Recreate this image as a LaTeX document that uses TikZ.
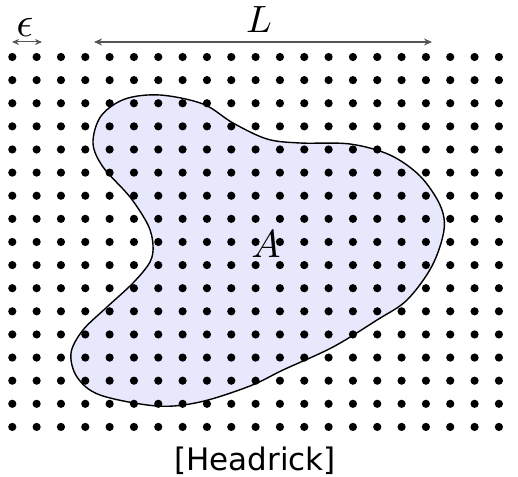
\documentclass[tikz,border=0pt]{standalone}
\usepackage{fontspec}
\usetikzlibrary{arrows.meta}
\newfontfamily\capfont{DejaVu Sans}
\definecolor{blobfill}{RGB}{232,232,252}
\definecolor{arrowgray}{RGB}{85,85,85}
\begin{document}
\begin{tikzpicture}[x=1pt,y=-1pt,
  dimarrow/.style={draw=arrowgray, line width=1pt, {Stealth[length=7pt,width=6pt]}-{Stealth[length=7pt,width=6pt]}},
  dimarrowL/.style={draw=arrowgray, line width=1.2pt, {Stealth[length=8pt,width=7pt]}-{Stealth[length=8pt,width=7pt]}},
  outline/.style={draw=black, line width=1.4pt},
  lbl/.style={inner sep=0pt, text=black}]
\useasboundingbox (0,0) rectangle (518,476);
\begin{scope}
\clip (0,0) rectangle (518,476);
\fill[blobfill] plot[smooth cycle, tension=0.55] coordinates {
(160,95) (203,104) (233,123) (267,139) (300,143) (350,144) (390,155) (420,176) (440,205) (444,230) (432,266) (407,300) (377,320) (333,347) (283,370) (250,386) (200,402) (157,406) (100,395) (77,377) (71,353) (83,330) (107,307) (133,283) (150,262) (153,245) (148,225) (130,197) (103,167) (93,143) (101,116) (125,99)};
\foreach \i in {0,...,21}
  \foreach \j in {0,...,16}
    \fill[black] (12.3+24.33*\i, 57+23.12*\j) circle (4.1pt);
\path[outline] plot[smooth cycle, tension=0.55] coordinates {
(160,95) (203,104) (233,123) (267,139) (300,143) (350,144) (390,155) (420,176) (440,205) (444,230) (432,266) (407,300) (377,320) (333,347) (283,370) (250,386) (200,402) (157,406) (100,395) (77,377) (71,353) (83,330) (107,307) (133,283) (150,262) (153,245) (148,225) (130,197) (103,167) (93,143) (101,116) (125,99)};
\end{scope}
\coordinate (e1) at (12,42);
\coordinate (e2) at (42,42);
\coordinate (l1) at (94,42);
\coordinate (l2) at (432,42);
\draw[dimarrow] (e1) -- (e2);
\draw[dimarrowL] (l1) -- (l2);
\node[lbl, scale=4.2] (eps) at (25,27) {$\epsilon$};
\node[lbl, scale=3.8] (Llab) at (259,20) {$L$};
\node[lbl, scale=3.9] (Alab) at (266,244) {$A$};
\node[lbl, anchor=base] (cite) at (255,470) {\capfont\fontsize{31}{33}\selectfont [Headrick]};
\end{tikzpicture}
\end{document}
